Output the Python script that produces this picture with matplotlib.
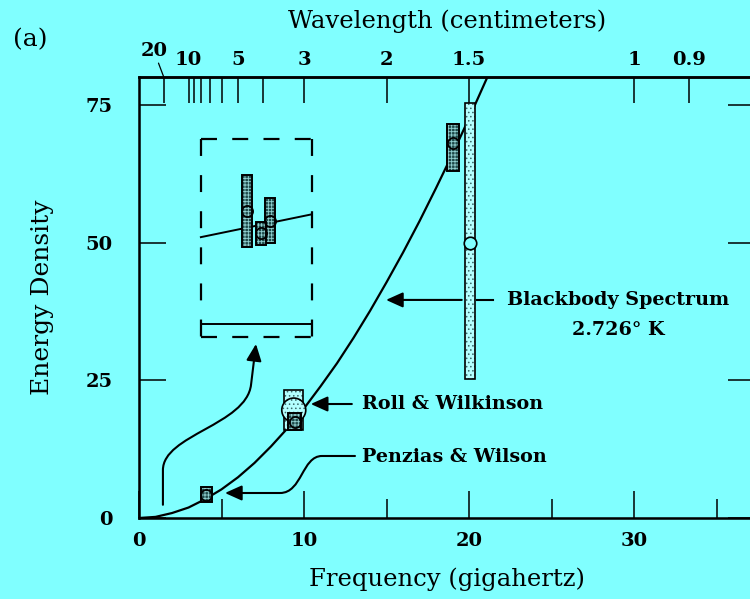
import numpy as np
import matplotlib
matplotlib.use('Agg')
import matplotlib.pyplot as plt
from matplotlib.patches import Ellipse, FancyArrowPatch, ArrowStyle
from matplotlib.path import Path

plt.rcParams['font.family'] = ['DejaVu Serif']
plt.rcParams['hatch.linewidth'] = 0.6
plt.rcParams['lines.scale_dashes'] = False

bg = '#80ffff'

# blackbody curve (GHz, energy density)
curve_nu = [0, 1, 2, 3, 4, 5, 6, 7, 8, 9, 10, 11, 12, 13, 14, 15, 16, 17, 18, 19, 20, 21, 21.2]
curve_e = [0, 0.2, 0.9, 1.9, 3.4, 5.2, 7.4, 10.0, 13.0, 16.3, 19.9, 23.9, 28.1, 32.7,
           37.6, 42.8, 48.2, 53.9, 59.9, 66.1, 72.6, 79.3, 80.6]

# dark (hatched) measurements: Penzias & Wilson, Roll & Wilkinson, 1.5 cm
dark_nu = [4.08, 9.45, 19.03]
dark_lo = [2.9, 16.0, 63.0]
dark_hi = [5.6, 19.1, 71.5]
dark_val = [4.2, 17.5, 68.1]
dark_w = [0.67, 0.79, 0.67]

# light (dotted) measurements
light_nu = [9.38, 20.07]
light_lo = [16.0, 25.2]
light_hi = [23.3, 75.4]
light_w = [1.15, 0.61]
big_circle = (9.38, 19.6)
open_nu = [20.07]
open_val = [50.0]

# inset points
inset_nu = [6.55, 7.93, 7.37]
inset_lo = [49.2, 49.9, 49.6]
inset_hi = [62.2, 58.1, 53.8]
inset_val = [55.7, 54.0, 51.8]
inset_line_nu = [3.75, 10.4]
inset_line_e = [51.0, 55.1]

# top axis (wavelength, cm)
wl_major = [20, 10, 5, 3, 2, 1.5, 1, 0.9]
wl_labels = ['', '10', '5', '3', '2', '1.5', '1', '0.9']
wl_minor = [9, 8, 7, 6, 4]

fig = plt.figure(figsize=(7.5, 5.99), dpi=100, facecolor=bg)
ax = fig.add_axes([139/750, 81/599, 616/750, 441/599])
ax.set_facecolor(bg)
ax.set_xlim(0, 616/16.5)
ax.set_ylim(0, 80.08)
for s in ax.spines.values():
    s.set_linewidth(1.8)

ax.set_xticks([0, 10, 20, 30])
ax.set_xticks([5, 15, 25, 35], minor=True)
ax.set_yticks([0, 25, 50, 75])
ax.tick_params(axis='x', which='major', direction='in', length=19.4, width=1.1,
               pad=10, labelsize=14, top=False)
ax.tick_params(axis='x', which='minor', direction='in', length=13.7, width=1.1, top=False)
ax.tick_params(axis='y', direction='in', length=19.4, width=1.1, pad=19,
               labelsize=14, right=True)
for lab in ax.get_xticklabels() + ax.get_yticklabels():
    lab.set_fontweight('bold')

ax.set_xlabel('Frequency (gigahertz)', fontsize=17.5, labelpad=13)
ax.set_ylabel('Energy Density', fontsize=18, labelpad=23)

ax2 = ax.twiny()
ax2.set_xlim(ax.get_xlim())
ax2.set_xticks([30/w for w in wl_major], labels=wl_labels)
ax2.set_xticks([30/w for w in wl_minor], minor=True)
ax2.tick_params(axis='x', which='both', direction='in', length=18.7, width=1.1,
                pad=6, labelsize=14)
for lab in ax2.get_xticklabels():
    lab.set_fontweight('bold')
ax2.spines['top'].set_linewidth(1.8)
ax2.set_xlabel('Wavelength (centimeters)', fontsize=17.5, labelpad=16)
ax.annotate('20', xy=(30/wl_major[0], 1), xycoords=('data', 'axes fraction'),
            xytext=(-7, 12), textcoords='offset points', ha='center', va='bottom',
            fontsize=14, fontweight='bold',
            arrowprops=dict(arrowstyle='-', lw=0.9, shrinkA=0, shrinkB=0))

# blackbody curve
ax.plot(curve_nu, curve_e, color='black', lw=1.6, zorder=3)

# light dotted bars
ax.bar(light_nu, np.subtract(light_hi, light_lo), bottom=light_lo, width=light_w,
       color='#b4ffff', edgecolor='#3a6a6a', hatch='....', linewidth=0, zorder=4)
ax.bar(light_nu, np.subtract(light_hi, light_lo), bottom=light_lo, width=light_w,
       fill=False, edgecolor='black', linewidth=1.2, zorder=4)
ell = Ellipse(big_circle, width=24/16.5, height=24/5.507, facecolor='#b4ffff',
              edgecolor='#3a6a6a', hatch='....', linewidth=0, zorder=5)
ax.add_patch(ell)
ax.add_patch(Ellipse(big_circle, width=24/16.5, height=24/5.507, fill=False,
                     edgecolor='black', linewidth=1.2, zorder=5))
ax.plot(open_nu, open_val, 'o', ms=9, mfc=bg, mec='black', mew=1.2, zorder=7)

# dark hatched bars (main plot and inset)
all_nu = dark_nu + inset_nu
all_lo = dark_lo + inset_lo
all_hi = dark_hi + inset_hi
all_w = dark_w + [0.61] * len(inset_nu)
for i in range(len(all_nu)):
    ax.bar(all_nu[i], all_hi[i] - all_lo[i], bottom=all_lo[i], width=all_w[i],
           color='#1d4848', edgecolor='#90d0d0', hatch='+++++', linewidth=0, zorder=6)
    ax.bar(all_nu[i], all_hi[i] - all_lo[i], bottom=all_lo[i], width=all_w[i],
           fill=False, edgecolor='black', linewidth=1.4, zorder=6)
ax.plot(dark_nu + inset_nu, dark_val + inset_val, 'o', ms=8, mfc='none',
        mec='black', mew=1.3, zorder=7)

# inset frame
x0, x1, y0, y1 = 3.76, 10.46, 32.9, 68.8
ax.plot([x0, x1], [y1, y1], color='black', lw=1.6, ls=(0, (11.5, 11)))
ax.plot([x0, x1], [y0, y0], color='black', lw=1.6, ls=(0, (11.5, 11)))
ax.plot([x0, x0], [y1, y0], color='black', lw=1.6, ls=(0, (12.2, 13.8)))
ax.plot([x1, x1], [y1, y0], color='black', lw=1.6, ls=(0, (12.2, 13.8)))
ax.plot([x0, x1], [35.2, 35.2], color='black', lw=1.4)
ax.plot(inset_line_nu, inset_line_e, color='black', lw=1.4, zorder=3)

head = ArrowStyle('-|>', head_length=0.6, head_width=0.27)

# arrow to inset
p = Path([(1.45, 2.4), (1.45, 8.7), (1.45, 15.1), (6.5, 16.9), (6.79, 24.2), (7.09, 31.6)],
         [Path.MOVETO, Path.LINETO, Path.CURVE4, Path.CURVE4, Path.CURVE4, Path.LINETO])
ax.add_patch(FancyArrowPatch(path=p, arrowstyle=head, mutation_scale=17,
                             color='black', lw=1.5, zorder=8))

# Penzias & Wilson arrow
p = Path([(13.09, 11.26), (11.09, 11.26), (9.88, 11.26), (9.88, 4.54), (8.55, 4.54), (5.21, 4.54)],
         [Path.MOVETO, Path.LINETO, Path.CURVE4, Path.CURVE4, Path.CURVE4, Path.LINETO])
ax.add_patch(FancyArrowPatch(path=p, arrowstyle=head, mutation_scale=17,
                             color='black', lw=1.5, zorder=8))
ax.text(13.5, 11.1, 'Penzias & Wilson', ha='left', va='center', fontsize=13.8,
        fontweight='bold')

# Roll & Wilkinson arrow
ax.annotate('', xy=(10.41, 20.7), xytext=(12.9, 20.7),
            arrowprops=dict(arrowstyle=head, mutation_scale=17, lw=1.5, color='black',
                            shrinkA=0, shrinkB=0))
ax.text(13.5, 20.7, 'Roll & Wilkinson', ha='left', va='center', fontsize=13.8,
        fontweight='bold')

# blackbody label arrow (broken where it crosses the bar)
ax.annotate('', xy=(14.97, 39.6), xytext=(19.56, 39.6),
            arrowprops=dict(arrowstyle=head, mutation_scale=17, lw=1.5, color='black',
                            shrinkA=0, shrinkB=0))
ax.plot([20.5, 21.45], [39.6, 39.6], color='black', lw=1.5)
ax.text(29.03, 39.6, 'Blackbody Spectrum', ha='center', va='center', fontsize=13.8,
        fontweight='bold')
ax.text(29.03, 34.1, '2.726° K', ha='center', va='center', fontsize=13.8,
        fontweight='bold')

fig.text(30/750, 1 - 40/599, '(a)', ha='center', va='center', fontsize=18)

fig.savefig('out.png', dpi=100, facecolor=bg)
